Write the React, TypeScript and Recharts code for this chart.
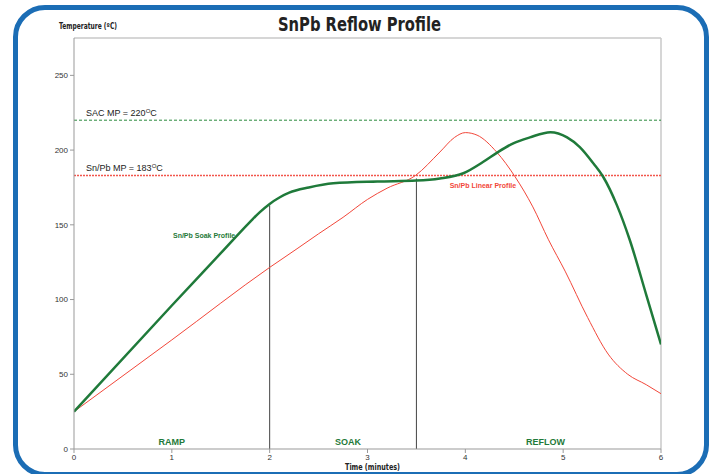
import React from "react";
import {
  LineChart,
  Line,
  XAxis,
  YAxis,
  ReferenceLine,
  ReferenceDot,
  Customized,
} from "recharts";

const xTicks = [0, 1, 2, 3, 4, 5, 6];
const yTicks = [0, 50, 100, 150, 200, 250];

const soakTimes = [0, 1, 1.5, 1.8, 1.9, 2, 2.1, 2.2, 2.4, 2.65, 3.1, 3.5, 3.74, 3.98, 4.18, 4.33, 4.49, 4.66, 4.87, 5.04, 5.17, 5.31, 5.41, 5.55, 5.68, 5.85, 6];
const soakTemps = [25, 96, 131, 152, 158.5, 164, 168.3, 171.5, 175, 177.8, 179, 179.6, 181, 184.5, 192, 198.5, 204.5, 208.5, 212, 208.5, 202, 191, 182, 163, 140, 103, 70];

const linearTimes = [0, 1, 2, 2.28, 2.5, 2.75, 3, 3.2, 3.49, 3.74, 3.89, 4.0, 4.12, 4.32, 4.51, 4.69, 4.85, 5.02, 5.25, 5.46, 5.66, 5.85, 6];
const linearTemps = [25, 73, 121.5, 134, 144, 155, 167, 174.5, 183, 198.7, 208.5, 211.7, 210, 198.7, 182, 162, 140, 119, 88, 63.5, 50, 43, 37];

const soakData = soakTimes.map((t, i) => ({ t, v: soakTemps[i] }));
const linearData = linearTimes.map((t, i) => ({ t, v: linearTemps[i] }));

const GREEN = "#1f7a3a";
const RED = "#f2473a";
const FONT = "'Liberation Sans', Arial, sans-serif";
const NARROW = "'Liberation Sans Narrow', 'DejaVu Sans Condensed', sans-serif";

const mpLabel = (text: string) => (props: any) => {
  const { viewBox } = props;
  return (
    <text x={viewBox.x + 12} y={viewBox.y - 4} fontSize={9} fill="#222" fontFamily={FONT}>
      {text}
      <tspan fontSize={6} dy={-3}>O</tspan>
      <tspan dy={3}>C</tspan>
    </text>
  );
};

const textLabel = (text: string, color: string, size: number) => (props: any) => {
  const { viewBox } = props;
  const cx = viewBox.x + (viewBox.width || 0) / 2;
  const cy = viewBox.y + (viewBox.height || 0) / 2;
  return (
    <text x={cx} y={cy} textAnchor="middle" dominantBaseline="central" fontSize={size} fontWeight="bold" fill={color} fontFamily={FONT}>
      {text}
    </text>
  );
};

const Titles = () => (
  <g>
    <text x={278} y={31} fontSize={20} fontWeight="bold" fill="#222" fontFamily={NARROW} textLength={163} lengthAdjust="spacingAndGlyphs">
      SnPb Reflow Profile
    </text>
    <text x={59} y={29} fontSize={8} fontWeight="bold" fill="#222" fontFamily={NARROW} textLength={58} lengthAdjust="spacingAndGlyphs">
      Temperature (ºC)
    </text>
    <text x={345} y={470} fontSize={8.5} fontWeight="bold" fill="#222" fontFamily={NARROW} textLength={55} lengthAdjust="spacingAndGlyphs">
      Time (minutes)
    </text>
  </g>
);

export default function App() {
  return (
    <div style={{ position: "absolute", left: 0, top: 0, width: 715, height: 474, background: "#fff" }}>
      <div
        style={{
          position: "absolute",
          left: 13,
          top: 5,
          width: 696,
          height: 472,
          border: "5px solid #1b6db5",
          borderRadius: 32,
          boxSizing: "border-box",
        }}
      />
      <div style={{ position: "absolute", left: 0, top: 0 }}>
        <LineChart width={715} height={474} margin={{ top: 38, right: 54, bottom: 0, left: 44 }}>
          <XAxis
            type="number"
            dataKey="t"
            domain={[0, 6]}
            ticks={xTicks}
            allowDataOverflow
            stroke="#999"
            tickSize={4}
            tickMargin={1}
            height={25}
            tick={{ fontSize: 8, fill: "#333", fontFamily: FONT }}
            tickLine={{ stroke: "#999" }}
          />
          <YAxis
            type="number"
            dataKey="v"
            domain={[0, 275]}
            ticks={yTicks}
            allowDataOverflow
            stroke="#999"
            tickSize={4}
            width={30}
            tick={{ fontSize: 8, fill: "#333", fontFamily: FONT }}
            tickLine={{ stroke: "#999" }}
          />
          <ReferenceLine y={275} stroke="#c8c8c8" strokeWidth={1.5} />
          <ReferenceLine x={6} stroke="#c8c8c8" strokeWidth={1.5} />
          <ReferenceLine y={220} stroke="#2a8a3e" strokeDasharray="3 2" strokeWidth={1} label={mpLabel("SAC MP = 220")} />
          <ReferenceLine y={183} stroke="#f2564c" strokeDasharray="2 1" strokeWidth={1.5} label={mpLabel("Sn/Pb MP = 183")} />
          <ReferenceLine segment={[{ x: 2, y: 0 }, { x: 2, y: 163 }]} stroke="#444" strokeWidth={1} />
          <ReferenceLine segment={[{ x: 3.5, y: 0 }, { x: 3.5, y: 181 }]} stroke="#444" strokeWidth={1} />
          <Line data={linearData} dataKey="v" type="monotone" stroke={RED} strokeWidth={1} dot={false} isAnimationActive={false} />
          <Line data={soakData} dataKey="v" type="monotone" stroke={GREEN} strokeWidth={2.5} dot={false} isAnimationActive={false} />
          <ReferenceDot x={1} y={5} r={0} stroke="none" fill="none" label={textLabel("RAMP", GREEN, 9)} />
          <ReferenceDot x={2.8} y={5} r={0} stroke="none" fill="none" label={textLabel("SOAK", GREEN, 9)} />
          <ReferenceDot x={4.82} y={5} r={0} stroke="none" fill="none" label={textLabel("REFLOW", GREEN, 9)} />
          <ReferenceDot x={1.33} y={143} r={0} stroke="none" fill="none" label={textLabel("Sn/Pb Soak Profile", GREEN, 7)} />
          <ReferenceDot x={4.18} y={176} r={0} stroke="none" fill="none" label={textLabel("Sn/Pb Linear Profile", RED, 7)} />
          <Customized component={Titles} />
        </LineChart>
      </div>
    </div>
  );
}
